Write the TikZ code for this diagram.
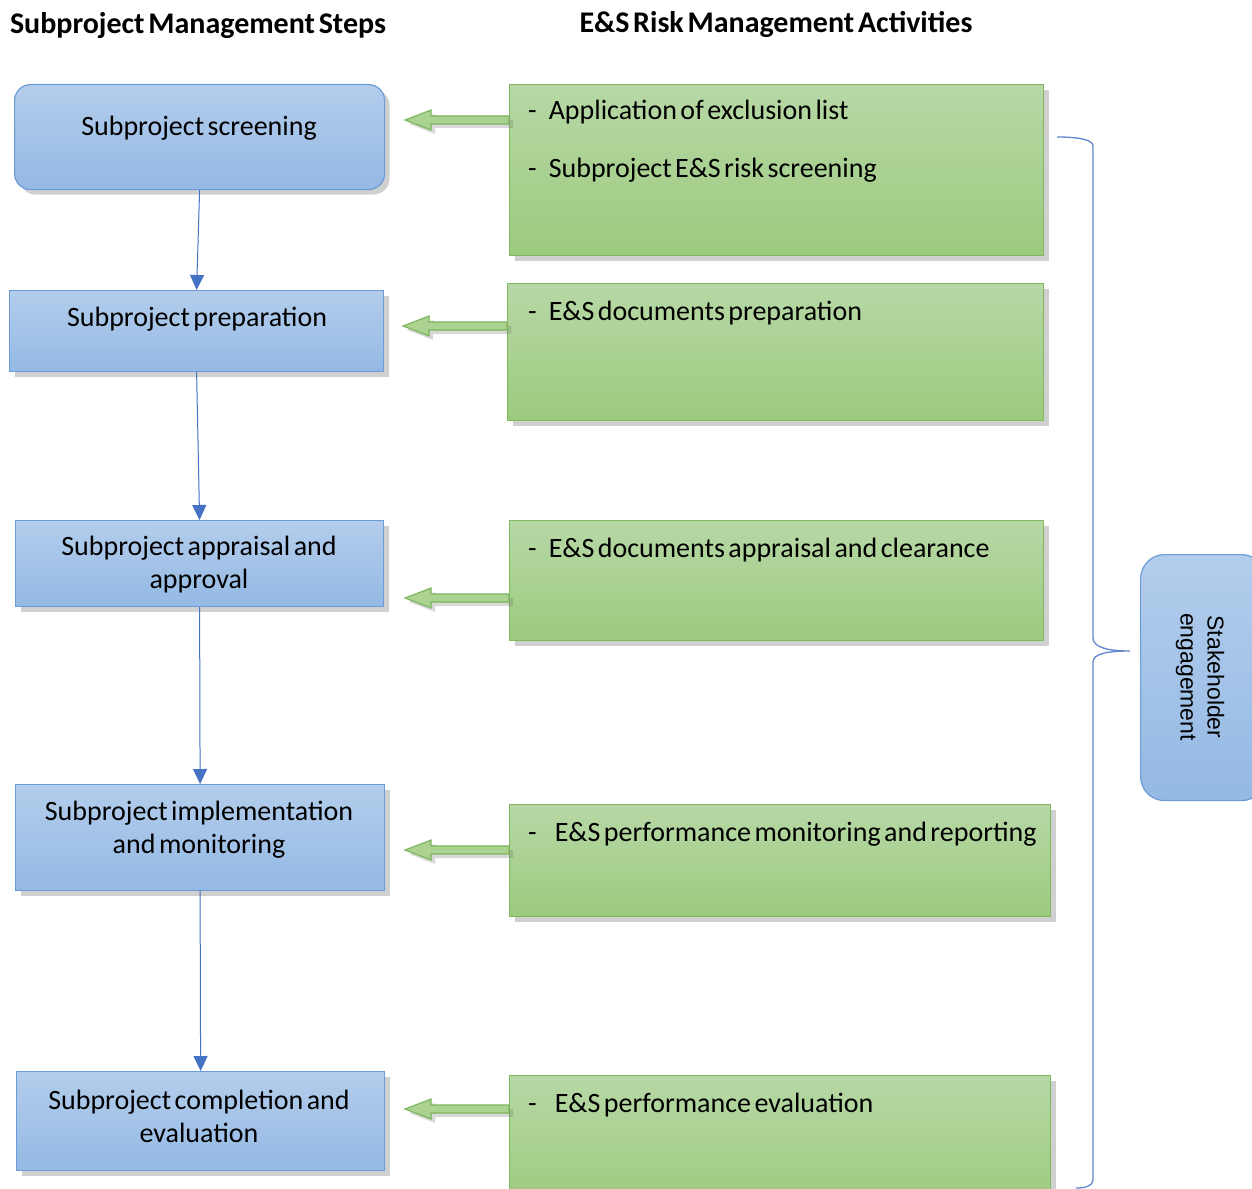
\documentclass[tikz,border=0pt]{standalone}
\usepackage{fontspec}
\setmainfont{Carlito}[WordSpace=0.55]
\newfontfamily\arialfont{Liberation Sans}
\usetikzlibrary{arrows.meta,shadows,calc}
\definecolor{bluetop}{HTML}{B3CDEC}
\definecolor{bluebot}{HTML}{94B9E4}
\definecolor{blueborder}{HTML}{6C9BD6}
\definecolor{greentop}{HTML}{B7D8A6}
\definecolor{greenbot}{HTML}{9CCA7E}
\definecolor{greenborder}{HTML}{80B85E}
\definecolor{arrowfill}{HTML}{ABD291}
\definecolor{arrowborder}{HTML}{7AB55A}
\definecolor{linkblue}{HTML}{4472C4}
\tikzset{
  myshadow/.style={drop shadow={opacity=0.3,fill=black!60,shadow xshift=5pt,shadow yshift=-5pt}},
  bluebox/.style={draw=blueborder,line width=1.2pt,top color=bluetop,bottom color=bluebot,myshadow,anchor=north west,inner sep=0pt},
  greenbox/.style={draw=greenborder,line width=1.2pt,top color=greentop,bottom color=greenbot,myshadow,anchor=north west,inner sep=0pt},
  steptext/.style={font=\fontsize{28}{33}\selectfont,align=center,inner sep=0pt},
  acttext/.style={font=\fontsize{28}{30}\selectfont,anchor=west,inner sep=0pt},
  titletext/.style={font=\fontsize{30}{34}\selectfont\bfseries,inner sep=0pt},
  flowarrow/.style={draw=linkblue,line width=1pt,-{Triangle[width=14pt,length=15pt]}},
  greenarrow/.style={draw=arrowborder,fill=arrowfill,line width=1.1pt,line join=miter,drop shadow={opacity=0.25,fill=black!60,shadow xshift=4pt,shadow yshift=-4pt}},
}
\newcommand{\greenarrowat}[1]{%
  \path[greenarrow] (#1) ++(0,-4) -- ++(-78,0) -- ++(0,-6) -- ++(-26,10) -- ++(26,10) -- ++(0,-6) -- ++(78,0) -- cycle;}
\begin{document}
\begin{tikzpicture}[x=1pt,y=-1pt]
\useasboundingbox (0,0) rectangle (1252,1188);
\fill[white] (0,0) rectangle (1252,1188);

% titles
\node[titletext] (t1) at (198,26) {Subproject Management Steps};
\node[titletext] (t2) at (776,24) {E\&S Risk Management Activities};

% left step boxes
\node[bluebox,rounded corners=16pt,minimum width=370,minimum height=105] (s1) at (14,84) {};
\node[bluebox,minimum width=374,minimum height=81] (s2) at (9,290) {};
\node[bluebox,minimum width=368,minimum height=86] (s3) at (15,520) {};
\node[bluebox,minimum width=369,minimum height=106] (s4) at (15,784) {};
\node[bluebox,minimum width=368,minimum height=99] (s5) at (16,1071) {};

\node[steptext] (s1t) at (199,128) {Subproject screening};
\node[steptext] (s2t) at (197,319) {Subproject preparation};
\node[steptext] (s3t) at (199,565) {Subproject appraisal and\\approval};
\node[steptext] (s4t) at (199,830) {Subproject implementation\\and monitoring};
\node[steptext] (s5t) at (199,1116) {Subproject completion and\\evaluation};

% flow arrows
\draw[flowarrow] (s1.south) -- (s2.north);
\draw[flowarrow] (s2.south) -- (s3.north);
\draw[flowarrow] (s3.south) -- (s4.north);
\draw[flowarrow] (s4.south) -- (s5.north);

% green activity boxes
\node[greenbox,minimum width=534,minimum height=171] (g1) at (509,84) {};
\node[greenbox,minimum width=536,minimum height=137] (g2) at (507,283) {};
\node[greenbox,minimum width=534,minimum height=120] (g3) at (509,520) {};
\node[greenbox,minimum width=541,minimum height=112] (g4) at (509,804) {};
\node[greenbox,minimum width=541,minimum height=130] (g5) at (509,1075) {};

\node[acttext] (g1a) at (528,112) {-\hspace{12pt}Application of exclusion list};
\node[acttext] (g1b) at (528,170) {-\hspace{12pt}Subproject E\&S risk screening};
\node[acttext] (g2a) at (528,313) {-\hspace{12pt}E\&S documents preparation};
\node[acttext] (g3a) at (528,550) {-\hspace{12pt}E\&S documents appraisal and clearance};
\node[acttext] (g4a) at (528,834) {-\hspace{18pt}E\&S performance monitoring and reporting};
\node[acttext] (g5a) at (528,1105) {-\hspace{18pt}E\&S performance evaluation};

% green block arrows (from activity box to step box)
\coordinate (a1) at (g1.west |- 0,120);
\coordinate (a2) at (g2.west |- 0,326);
\coordinate (a3) at (g3.west |- 0,598);
\coordinate (a4) at (g4.west |- 0,850);
\coordinate (a5) at (g5.west |- 0,1109);
\greenarrowat{a1}
\greenarrowat{a2}
\greenarrowat{a3}
\greenarrowat{a4}
\greenarrowat{a5}

% stakeholder box
\node[draw=blueborder,line width=1.2pt,top color=bluetop,bottom color=bluebot,rounded corners=24pt,anchor=north west,minimum width=125,minimum height=246,inner sep=0pt] (sh) at (1140,554) {};
\node[rotate=-90,font=\arialfont\fontsize{23}{27}\selectfont,align=center,inner sep=0pt] (sht) at (1200,677) {Stakeholder\\engagement};

% brace
\coordinate (b0) at (1057,137);
\coordinate (bm) at (1130,651);
\coordinate (b1) at (1076,1188);
\draw[linkblue!85,line width=1.3pt] (b0) .. controls (1080,137) and (1093,140) .. (1093,146)
  -- (1093,638) .. controls (1093,648) and (1110,651) .. (bm)
  .. controls (1110,651) and (1093,653) .. (1093,662)
  -- (1093,1180) .. controls (1093,1186) and (1085,1188) .. (b1);
\end{tikzpicture}
\end{document}
